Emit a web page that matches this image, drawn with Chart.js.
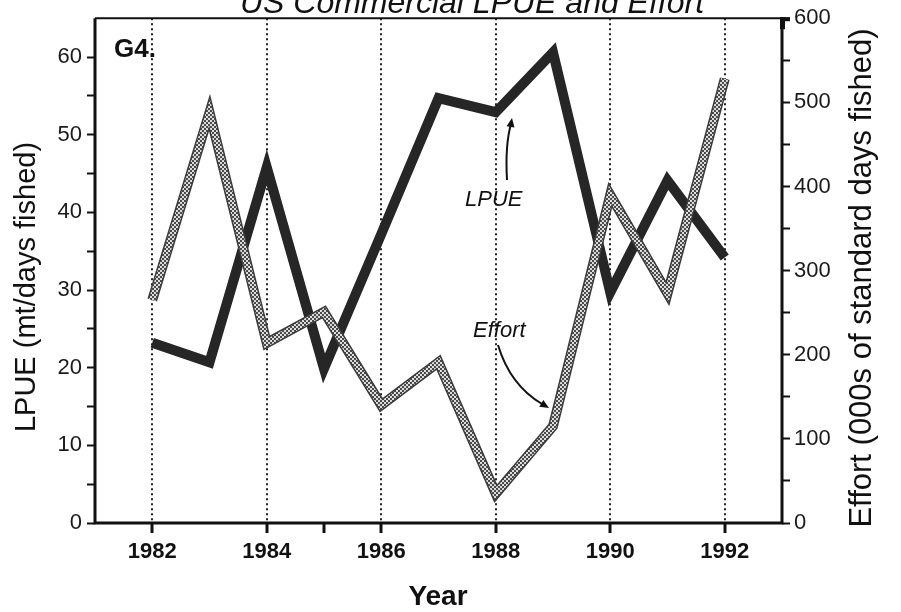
<!DOCTYPE html>
<html>
<head>
<meta charset="utf-8">
<script src="https://cdn.jsdelivr.net/npm/chart.js@4.4.0/dist/chart.umd.min.js"></script>
<style>
html, body { margin: 0; padding: 0; background: #fff; }
canvas { display: block; }
</style>
</head>
<body>
<canvas id="lpueChart" width="901" height="612"></canvas>
<script>
// values
var years = [1982, 1983, 1984, 1985, 1986, 1987, 1988, 1989, 1990, 1991, 1992];
var lpue = [23.2, 20.7, 45.8, 19.9, 37.2, 54.7, 52.9, 60.6, 29.7, 44.1, 34.2];
var effort = [265, 488, 214, 251, 140, 191, 35, 115, 390, 273, 528];

// axis ticks (only the labelled ones get text)
var yearTicks = [1982, 1984, 1985, 1986, 1988, 1990, 1992];
var yearLabels = [1982, 1984, 1986, 1988, 1990, 1992];
var lpueLabels = [0, 10, 20, 30, 40, 50, 60];
var effortLabels = [0, 100, 200, 300, 400, 500, 600];

var FONT = '"Liberation Sans", Arial, Helvetica, sans-serif';

function points(vals) {
    return years.map(function (y, i) { return { x: y, y: vals[i] }; });
}

var ctx = document.getElementById('lpueChart').getContext('2d');

// checker pattern for the effort line
var pc = document.createElement('canvas');
pc.width = 4; pc.height = 4;
var pg = pc.getContext('2d');
pg.fillStyle = '#dcdcdc'; pg.fillRect(0, 0, 4, 4);
pg.fillStyle = '#4a4a4a'; pg.fillRect(0, 0, 2, 2); pg.fillRect(2, 2, 2, 2);
var hatch = ctx.createPattern(pc, 'repeat');

function arrowHead(c, x, y, dx, dy) {
    var len = Math.sqrt(dx * dx + dy * dy);
    var ux = dx / len, uy = dy / len;
    c.beginPath();
    c.moveTo(x, y);
    c.lineTo(x - ux * 9 - uy * 4, y - uy * 9 + ux * 4);
    c.lineTo(x - ux * 9 + uy * 4, y - uy * 9 - ux * 4);
    c.closePath();
    c.fill();
}

var decor = {
    id: 'decor',
    beforeDraw: function (chart) {
        var c = chart.ctx;
        c.save();
        c.fillStyle = '#fff';
        c.fillRect(0, 0, chart.width, chart.height);
        c.restore();
    },
    afterDraw: function (chart) {
        var c = chart.ctx, a = chart.chartArea;
        c.save();
        c.strokeStyle = '#111';
        c.lineWidth = 3;
        c.beginPath();
        c.moveTo(a.left, a.top); c.lineTo(a.left, a.bottom);
        c.lineTo(a.right, a.bottom); c.lineTo(a.right, a.top);
        c.stroke();
        c.lineWidth = 2;
        c.beginPath();
        c.moveTo(a.left, a.top); c.lineTo(a.right, a.top);
        c.stroke();
        // heavy corner mark at 600
        c.fillStyle = '#111';
        c.fillRect(a.right - 2, a.top - 1, 10, 4);
        c.fillRect(a.right - 2, a.top - 1, 5, 12);

        // title, cut off at the top like the scan
        c.font = 'italic 32px ' + FONT;
        c.textAlign = 'center';
        c.textBaseline = 'alphabetic';
        c.fillText('US Commercial LPUE and Effort', 472, 13);

        // panel tag
        c.font = 'bold 26px ' + FONT;
        c.textAlign = 'left';
        c.fillText('G4.', 114, 57);

        // x title
        c.font = 'bold 28px ' + FONT;
        c.textAlign = 'center';
        c.fillText('Year', 438, 605);

        // y titles
        c.font = '29px ' + FONT;
        c.save();
        c.translate(35, 287);
        c.rotate(-Math.PI / 2);
        c.fillText('LPUE (mt/days fished)', 0, 0);
        c.restore();

        c.font = '31px ' + FONT;
        c.save();
        c.translate(871, 278);
        c.rotate(-Math.PI / 2);
        c.fillText('Effort (000s of standard days fished)', 0, 0);
        c.restore();

        // line labels with arrows
        c.font = 'italic 22px ' + FONT;
        c.textAlign = 'left';
        c.fillText('LPUE', 465, 206);
        c.fillText('Effort', 473, 337);

        c.lineWidth = 2;
        c.beginPath();
        c.moveTo(507, 180);
        c.quadraticCurveTo(505, 145, 511, 124);
        c.stroke();
        arrowHead(c, 512, 118, 1, -6);

        c.beginPath();
        c.moveTo(498, 345);
        c.quadraticCurveTo(510, 385, 542, 404);
        c.stroke();
        arrowHead(c, 549, 408, 38, 23);
        c.restore();
    }
};

var myChart = new Chart(ctx, {
    type: 'line',
    data: {
        datasets: [
            {
                label: 'Effort',
                data: points(effort),
                yAxisID: 'yR',
                borderColor: hatch,
                borderWidth: 7,
                borderJoinStyle: 'miter',
                pointRadius: 0,
                tension: 0,
                order: 0
            },
            {
                label: 'Effort edge',
                data: points(effort),
                yAxisID: 'yR',
                borderColor: '#3c3c3c',
                borderWidth: 10,
                borderJoinStyle: 'miter',
                pointRadius: 0,
                tension: 0,
                order: 1
            },
            {
                label: 'LPUE',
                data: points(lpue),
                yAxisID: 'yL',
                borderColor: '#262626',
                borderWidth: 10,
                borderJoinStyle: 'miter',
                pointRadius: 0,
                tension: 0,
                order: 2
            }
        ]
    },
    options: {
        responsive: false,
        animation: false,
        layout: { padding: { top: 17, left: 0, right: 0, bottom: 0 } },
        plugins: {
            legend: { display: false },
            tooltip: { enabled: false }
        },
        scales: {
            x: {
                type: 'linear',
                position: 'bottom',
                min: 1981,
                max: 1993,
                afterBuildTicks: function (s) {
                    s.ticks = yearTicks.map(function (v) { return { value: v }; });
                },
                afterFit: function (s) { s.height = 89; },
                grid: {
                    color: function (c) {
                        return c.tick && yearLabels.indexOf(c.tick.value) >= 0 ? '#222' : 'transparent';
                    },
                    lineWidth: 2,
                    tickColor: '#111',
                    tickWidth: 3,
                    tickLength: 10
                },
                border: { display: false, dash: [2, 3] },
                ticks: {
                    autoSkip: false,
                    maxRotation: 0,
                    padding: 6,
                    color: '#111',
                    font: { family: FONT, size: 22, weight: 'bold' },
                    callback: function (v) { return yearLabels.indexOf(v) >= 0 ? String(v) : ''; }
                }
            },
            yL: {
                type: 'linear',
                position: 'left',
                min: 0,
                max: 65,
                afterBuildTicks: function (s) {
                    var t = [];
                    for (var v = 0; v <= 60; v += 5) t.push({ value: v });
                    s.ticks = t;
                },
                afterFit: function (s) { s.width = 95; },
                grid: { drawOnChartArea: false, tickColor: '#111', tickWidth: 2, tickLength: 8 },
                border: { display: false },
                ticks: {
                    padding: 5,
                    color: '#1a1a1a',
                    font: { family: FONT, size: 22 },
                    callback: function (v) { return lpueLabels.indexOf(v) >= 0 ? String(v) : ''; }
                }
            },
            yR: {
                type: 'linear',
                position: 'right',
                min: 0,
                max: 600,
                afterBuildTicks: function (s) {
                    var t = [];
                    for (var v = 0; v <= 600; v += 50) t.push({ value: v });
                    s.ticks = t;
                },
                afterFit: function (s) { s.width = 119; },
                grid: { drawOnChartArea: false, tickColor: '#111', tickWidth: 2, tickLength: 8 },
                border: { display: false },
                ticks: {
                    padding: 4,
                    color: '#1a1a1a',
                    font: { family: FONT, size: 22 },
                    callback: function (v) { return effortLabels.indexOf(v) >= 0 ? String(v) : ''; }
                }
            }
        }
    },
    plugins: [decor]
});
</script>
</body>
</html>
